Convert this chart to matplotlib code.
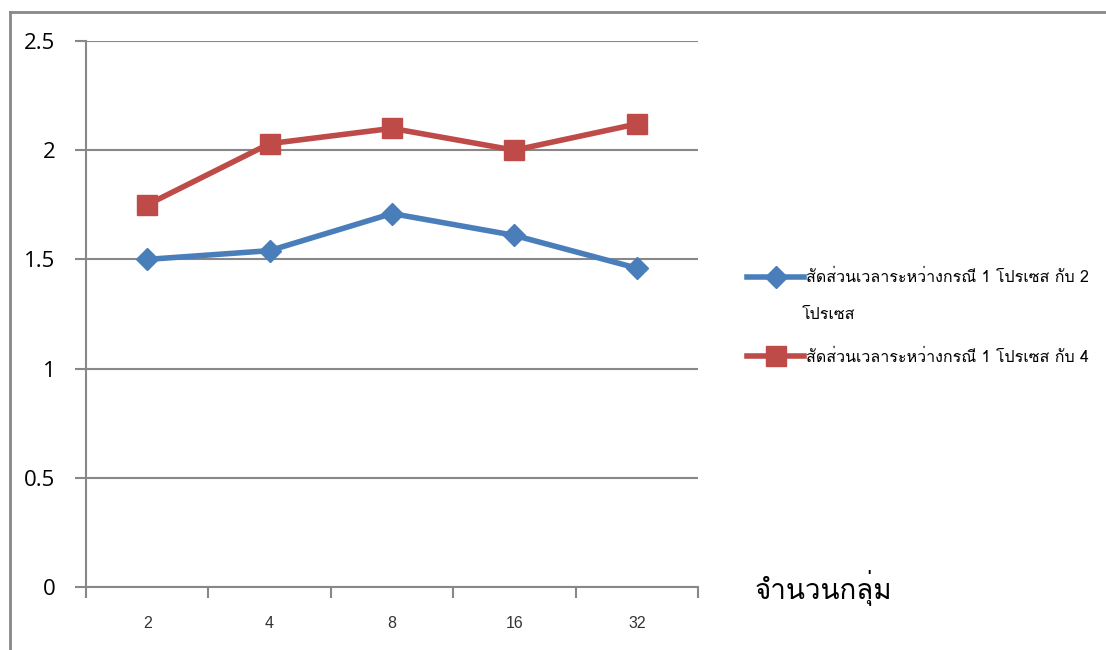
import numpy as np
import matplotlib.pyplot as plt
from matplotlib import font_manager
from matplotlib.ft2font import FT2Font
from matplotlib.lines import Line2D

groups = ["2", "4", "8", "16", "32"]
ratio_1v2 = [1.50, 1.54, 1.71, 1.61, 1.46]
ratio_1v4 = [1.75, 2.03, 2.10, 2.00, 2.12]
label_1v2 = ["สัดส่วนเวลาระหว่างกรณี 1 โปรเซส กับ 2", "โปรเซส"]
label_1v4 = "สัดส่วนเวลาระหว่างกรณี 1 โปรเซส กับ 4"
xlabel = "จำนวนกลุ่ม"


# pick any installed font that has Thai glyphs
def thai_fonts():
    found = []
    for f in font_manager.fontManager.ttflist:
        try:
            ft = FT2Font(f.fname)
            if ft.get_char_index(0x0E2A) and f.name not in found:
                found.append(f.name)
        except Exception:
            pass
    return found

thai = thai_fonts()
fam = thai[:1] + ["DejaVu Sans"]
plt.rcParams['font.family'] = fam

fig = plt.figure(figsize=(11.06, 6.5), dpi=100)
W, H = 1106, 650
ax = fig.add_axes([86 / W, 1 - 587 / H, (698 - 86) / W, (587 - 41) / H])

x = np.arange(len(groups))
blue = "#4a7ebb"
red = "#be4b48"
ax.plot(x, ratio_1v2, color=blue, lw=4, marker="D", ms=11, zorder=3)
ax.plot(x, ratio_1v4, color=red, lw=4, marker="s", ms=14, zorder=3)

ax.set_xlim(-0.5, 4.5)
ax.set_ylim(0, 2.5)
ax.set_yticks([0, 0.5, 1, 1.5, 2, 2.5])
ax.set_yticklabels(["0", "0.5", "1", "1.5", "2", "2.5"], fontsize=16, family=["Open Sans", "DejaVu Sans"])
ax.set_xticks(x)
ax.set_xticklabels(groups, fontsize=11.5, color="#333333", family=["Liberation Sans", "DejaVu Sans"])
ax.set_xticks(np.arange(-0.5, 5, 1), minor=True)
ax.tick_params(axis="x", which="major", length=0, pad=21)
ax.tick_params(axis="x", which="minor", length=8, width=1.5, color="#888888", direction="out")
ax.tick_params(axis="y", length=8, width=1.5, color="#888888", direction="out", pad=14)
ax.yaxis.grid(True, color="#888888", lw=1.5)
for s in ["top", "right"]:
    ax.spines[s].set_visible(False)
for s in ["left", "bottom"]:
    ax.spines[s].set_color("#888888")
    ax.spines[s].set_linewidth(1.5)

handles = [Line2D([], [], color=blue, lw=4, marker="D", ms=11),
           Line2D([], [], color=red, lw=4, marker="s", ms=14)]
leg = fig.legend(handles, [label_1v2[0], label_1v4], loc="center left",
                 bbox_to_anchor=(739 / W, 1 - 318 / H),
                 frameon=False, fontsize=11.5, handlelength=3.6, handletextpad=0.1,
                 labelspacing=3.95, borderpad=0)
# wrapped tail of the first label
fig.text(802 / W, 1 - 315 / H, label_1v2[1], fontsize=11.5, va="center", ha="left")

fig.text(755 / W, 1 - 588 / H, xlabel, fontsize=20, va="center", ha="left")

# outer frame
fig.add_artist(Line2D([10 / W, 10 / W], [0, 1 - 12 / H], transform=fig.transFigure, color="#888888", lw=2))
fig.add_artist(Line2D([10 / W, 1], [1 - 12 / H, 1 - 12 / H], transform=fig.transFigure, color="#888888", lw=2))

fig.savefig("out.png", dpi=100)
